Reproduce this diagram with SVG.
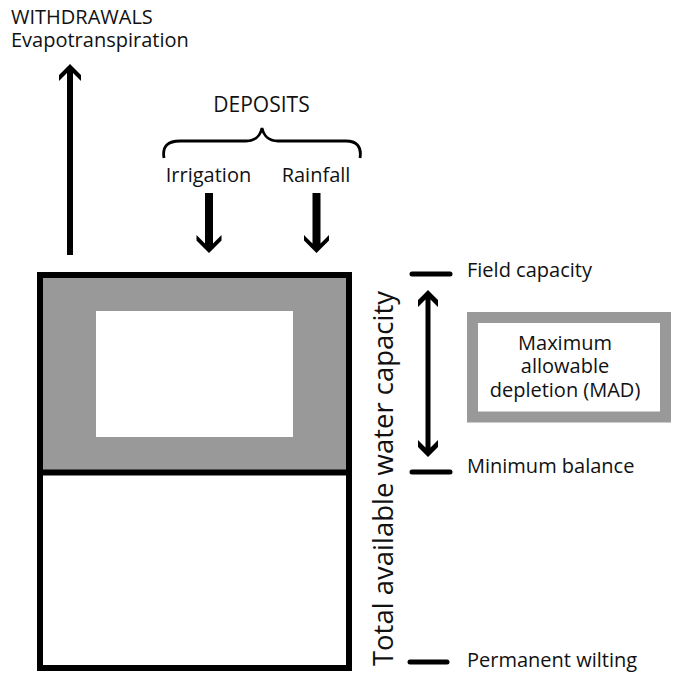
<svg xmlns="http://www.w3.org/2000/svg" width="673" height="673" viewBox="0 0 673 673">
<style>
text{font-family:"Open Sans","Noto Sans","DejaVu Sans",sans-serif;fill:#111;font-weight:500;font-size:20px;}
.big{font-size:27.5px;}
.dep{font-size:21px;}
.arr{fill:#000;stroke:none;}
.tick{stroke:#000;stroke-width:5;stroke-linecap:round;}
</style>
<rect width="673" height="673" fill="#fff"/>
<g id="reservoir">
<rect x="40" y="275" width="309" height="197" fill="#999"/>
<rect x="96" y="311" width="197" height="126" fill="#fff"/>
<rect x="40" y="275" width="309" height="393" fill="none" stroke="#000" stroke-width="6"/>
<line x1="40" y1="472.5" x2="349" y2="472.5" stroke="#000" stroke-width="6"/>
</g>
<g id="withdrawals">
<text x="11" y="24">WITHDRAWALS</text>
<text x="11" y="47">Evapotranspiration</text>
</g>
<g id="deposits">
<text class="dep" x="261.5" y="112" text-anchor="middle">DEPOSITS</text>
<path d="M164,158 C162,146 168,141 180,141 L246,141 C256,141 260,136 262,128 C264,136 268,141 278,141 L346,141 C356,141 362,146 360,158" fill="none" stroke="#000" stroke-width="2.8"/>
<text x="208.5" y="182" text-anchor="middle">Irrigation</text>
<text x="316" y="182" text-anchor="middle">Rainfall</text>
</g>
<g id="levels">
<line class="tick" x1="412" y1="274" x2="450" y2="274"/>
<text x="467" y="277">Field capacity</text>
<line class="tick" x1="412" y1="472" x2="450" y2="472"/>
<text x="467" y="473">Minimum balance</text>
<line class="tick" x1="410" y1="662" x2="447" y2="662"/>
<text x="467" y="667">Permanent wilting</text>
<text class="big" x="393" y="478.5" transform="rotate(-90 393 478.5)" text-anchor="middle">Total available water capacity</text>
</g>
<g id="mad">
<rect x="472.5" y="317.5" width="193" height="99.5" fill="#fff" stroke="#999" stroke-width="11"/>
<text x="565" y="350" text-anchor="middle">Maximum</text>
<text x="565" y="373" text-anchor="middle">allowable</text>
<text x="565" y="397" text-anchor="middle">depletion (MAD)</text>
</g>
<g id="connectors">
<path class="arr" d="M70,64 L81,75 L81,81 L73,73 L73,255 L67,255 L67,73 L59,81 L59,75 Z"/>
<path class="arr" d="M209,253 L221.5,240.5 L221.5,235 L213,243.5 L213,193 L205,193 L205,243.5 L196.5,235 L196.5,240.5 Z"/>
<path class="arr" d="M316.5,253 L329,240.5 L329,235 L320.5,243.5 L320.5,193 L312.5,193 L312.5,243.5 L304,235 L304,240.5 Z"/>
<path class="arr" d="M428,290 L438,300 L438,307 L430.5,299.5 L430.5,447.5 L438,440 L438,447 L428,457 L418,447 L418,440 L425.5,447.5 L425.5,299.5 L418,307 L418,300 Z"/>
</g>
</svg>
